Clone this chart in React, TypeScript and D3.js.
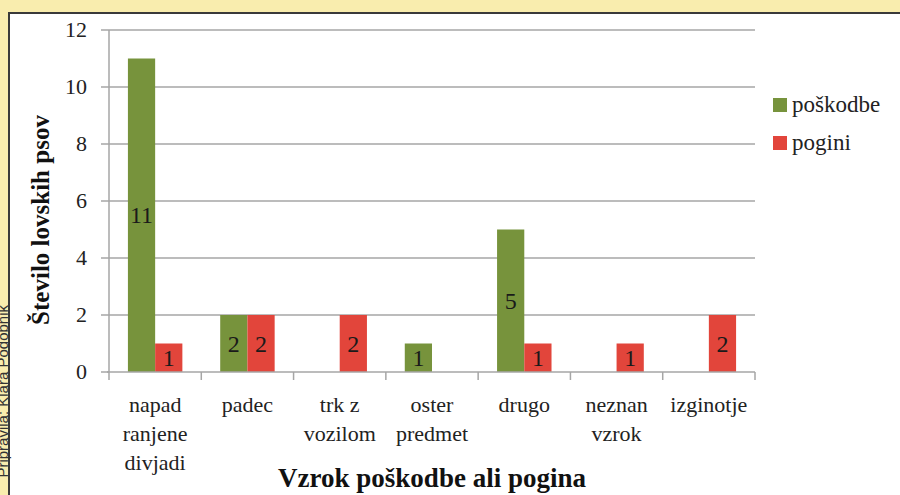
import React, { useEffect } from "react";
import * as d3 from "d3";

const categories: string[][] = [
  ["napad", "ranjene", "divjadi"],
  ["padec"],
  ["trk z", "vozilom"],
  ["oster", "predmet"],
  ["drugo"],
  ["neznan", "vzrok"],
  ["izginotje"],
];
const seriesNames = ["poškodbe", "pogini"];
const poskodbe: (number | null)[] = [11, 2, null, 1, 5, null, null];
const pogini: (number | null)[] = [1, 2, 2, null, 1, 1, 2];
const yTicks = [0, 2, 4, 6, 8, 10, 12];
const colors = ["#77933c", "#e2453b"];

const W = 900;
const H = 495;
const plot = { left: 109, right: 755, top: 30, bottom: 372 };
const SERIF = "Times New Roman, Tinos, Liberation Serif, serif";

export default function App() {
  useEffect(() => {
    document.body.style.margin = "0";
  }, []);

  const x = d3
    .scaleBand<number>()
    .domain(d3.range(categories.length))
    .range([plot.left, plot.right])
    .paddingInner(0)
    .paddingOuter(0);
  const y = d3.scaleLinear().domain([0, 12]).range([plot.bottom, plot.top]);
  const barW = x.bandwidth() * 0.295;
  const series = [poskodbe, pogini];

  return (
    <svg width={W} height={H} fontFamily={SERIF} style={{ position: "absolute", left: 0, top: 0, display: "block" }}>
      <rect x={0} y={0} width={W} height={H} fill="#f9edae" />
      <rect x={9} y={13} width={W + 10} height={H + 10} fill="#ffffff" stroke="#3a3a3a" strokeWidth={2} />

      {yTicks.map((t) => (
        <line
          key={t}
          x1={plot.left - 8}
          x2={t === 0 ? plot.left : plot.right}
          y1={y(t)}
          y2={y(t)}
          stroke="#a6a6a6"
          strokeWidth={1.5}
        />
      ))}
      {yTicks.map((t) => (
        <text key={"l" + t} x={plot.left - 22} y={y(t) + 7} textAnchor="end" fontFamily={SERIF} fontSize={22} fill="#222">
          {t}
        </text>
      ))}
      <line x1={plot.left} x2={plot.left} y1={plot.top} y2={plot.bottom} stroke="#a6a6a6" strokeWidth={1.5} />

      {series.map((s, si) =>
        s.map((v, i) => {
          if (v == null) return null;
          const cx = (x(i) as number) + x.bandwidth() / 2;
          const bx = si === 0 ? cx - barW : cx;
          return (
            <g key={si + "-" + i}>
              <rect x={bx} y={y(v)} width={barW} height={y(0) - y(v)} fill={colors[si]} />
              <text x={bx + barW / 2} y={y(v / 2) + 8} textAnchor="middle" fontFamily={SERIF} fontSize={24} fill="#1a1a1a">
                {v}
              </text>
            </g>
          );
        })
      )}

      <line x1={plot.left - 2} x2={plot.right} y1={plot.bottom} y2={plot.bottom} stroke="#a6a6a6" strokeWidth={1.5} />
      {d3.range(categories.length + 1).map((i) => {
        const tx = i < categories.length ? (x(i) as number) : plot.right;
        return <line key={"t" + i} x1={tx} x2={tx} y1={plot.bottom} y2={plot.bottom + 8} stroke="#a6a6a6" strokeWidth={1.5} />;
      })}

      {categories.map((lines, i) => (
        <text key={"c" + i} textAnchor="middle" fontFamily={SERIF} fontSize={22} fill="#222">
          {lines.map((ln, j) => (
            <tspan key={j} x={(x(i) as number) + x.bandwidth() / 2} y={412 + j * 29}>
              {ln}
            </tspan>
          ))}
        </text>
      ))}

      <text transform={`translate(49,220) rotate(-90)`} textAnchor="middle" fontFamily={SERIF} fontSize={25} fontWeight="bold" fill="#111">
        Število lovskih psov
      </text>
      <text x={432} y={487} textAnchor="middle" fontFamily={SERIF} fontSize={27} fontWeight="bold" fill="#111">
        Vzrok poškodbe ali pogina
      </text>

      {seriesNames.map((n, i) => (
        <g key={n} transform={`translate(773,${98 + i * 38})`}>
          <rect x={0} y={0} width={14} height={14} fill={colors[i]} />
          <text x={19} y={14} fontFamily={SERIF} fontSize={23} fill="#222">
            {n}
          </text>
        </g>
      ))}

      <text
        transform={`translate(8,305) rotate(-90)`}
        textAnchor="end"
        fontFamily="Liberation Sans, Arial, sans-serif"
        fontSize={15}
        fill="#333"
      >
        Pripravila: Klara Podobnik
      </text>
    </svg>
  );
}
